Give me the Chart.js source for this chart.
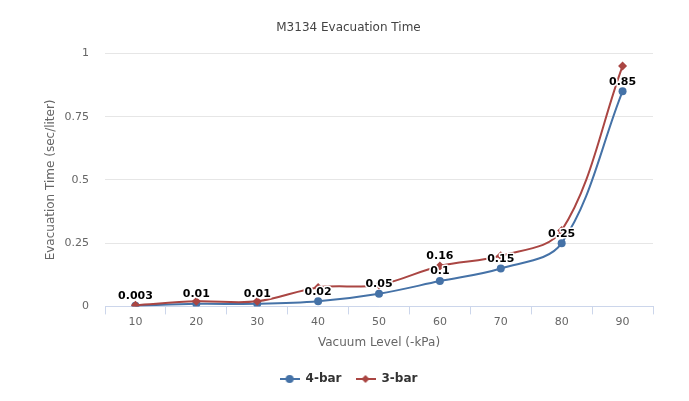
<!DOCTYPE html>
<html>
<head>
<meta charset="utf-8">
<script src="https://cdn.jsdelivr.net/npm/chart.js@4.4.1/dist/chart.umd.min.js"></script>
<style>
  html, body { margin: 0; padding: 0; background: #fff; }
  #wrap { width: 689px; height: 401px; }
</style>
</head>
<body>
<div id="wrap"><canvas id="evac-chart"></canvas></div>
<script>
// vacuum levels (-kPa)
var vacuumLevels = ["10", "20", "30", "40", "50", "60", "70", "80", "90"];
// evacuation time (sec/liter)
var fourBar = [0.003, 0.01, 0.01, 0.02, 0.05, 0.1, 0.15, 0.25, 0.85];
var threeBar = [0.005, 0.02, 0.02, 0.075, 0.085, 0.16, 0.2, 0.3, 0.95];
// which 3-bar values get a label (the rest are hidden under the 4-bar ones)
var threeBarLabelShown = [false, false, false, false, false, true, false, false, false];
var yTicks = [0, 0.25, 0.5, 0.75, 1];

var FONT = "'DejaVu Sans', sans-serif";
var BLUE = "#4572A7";
var RED = "#AA4643";

// small legend symbol: line with the marker on it
function legendSymbol(color, style) {
	var c = document.createElement("canvas");
	c.width = 20; c.height = 10;
	var g = c.getContext("2d");
	g.strokeStyle = color;
	g.lineWidth = 2;
	g.beginPath(); g.moveTo(0, 5); g.lineTo(20, 5); g.stroke();
	g.fillStyle = color;
	g.beginPath();
	if (style == "circle") {
		g.arc(10, 5, 4, 0, Math.PI * 2);
	} else {
		g.moveTo(10, 1); g.lineTo(14, 5); g.lineTo(10, 9); g.lineTo(6, 5); g.closePath();
	}
	g.fill();
	return c;
}

var dataLabels = {
	id: "dataLabels",
	afterDatasetsDraw: function(chart) {
		var ctx = chart.ctx;
		ctx.save();
		ctx.font = "bold 11px " + FONT;
		ctx.textAlign = "center";
		ctx.textBaseline = "bottom";
		ctx.lineJoin = "round";
		chart.data.datasets.forEach(function(ds, i) {
			var meta = chart.getDatasetMeta(i);
			meta.data.forEach(function(pt, j) {
				if (ds.showLabel && !ds.showLabel[j]) return;
				var txt = String(ds.data[j]);
				ctx.strokeStyle = "#fff";
				ctx.lineWidth = 3;
				ctx.strokeText(txt, pt.x, pt.y - 4);
				ctx.fillStyle = "#000";
				ctx.fillText(txt, pt.x, pt.y - 4);
			});
		});
		ctx.restore();
	}
};

new Chart(document.getElementById("evac-chart"), {
	type: "line",
	data: {
		labels: vacuumLevels,
		datasets: [{
			label: "4-bar",
			data: fourBar,
			borderColor: BLUE,
			backgroundColor: BLUE,
			pointBackgroundColor: BLUE,
			pointBorderColor: BLUE,
			pointStyle: "circle",
			pointRadius: 4,
			pointBorderWidth: 0,
			borderWidth: 2,
			tension: 0.35,
			order: 2,
			fill: false
		}, {
			label: "3-bar",
			data: threeBar,
			showLabel: threeBarLabelShown,
			borderColor: RED,
			backgroundColor: RED,
			pointBackgroundColor: RED,
			pointBorderColor: RED,
			pointStyle: "rectRot",
			pointRadius: 4.5,
			pointBorderWidth: 0,
			borderWidth: 2,
			tension: 0.35,
			order: 1,
			fill: false
		}]
	},
	options: {
		responsive: true,
		maintainAspectRatio: false,
		animation: false,
		layout: { padding: { left: 44, right: 36, top: 0, bottom: 6 } },
		plugins: {
			title: {
				display: true,
				text: "M3134 Evacuation Time",
				color: "#444",
				font: { family: FONT, size: 12, weight: "normal" },
				padding: { top: 21, bottom: 18 }
			},
			legend: {
				position: "bottom",
				labels: {
					color: "#333",
					font: { family: FONT, size: 12, weight: "bold" },
					usePointStyle: true,
					pointStyleWidth: 20,
					padding: 14,
					generateLabels: function(chart) {
						return chart.data.datasets.map(function(ds, i) {
							return {
								text: ds.label,
								pointStyle: legendSymbol(ds.borderColor, ds.pointStyle),
								fillStyle: ds.borderColor,
								strokeStyle: ds.borderColor,
								fontColor: "#333",
								lineWidth: 0,
								datasetIndex: i
							};
						});
					}
				}
			},
			tooltip: { enabled: false }
		},
		scales: {
			x: {
				offset: true,
				grid: {
					offset: true,
					drawOnChartArea: false,
					drawTicks: true,
					tickLength: 8,
					color: "#ccd6eb"
				},
				border: { color: "#ccd6eb", width: 1 },
				ticks: { color: "#666", font: { family: FONT, size: 11 }, padding: 1 },
				title: {
					display: true,
					text: "Vacuum Level (-kPa)",
					color: "#666",
					font: { family: FONT, size: 12 },
					padding: { top: 6, bottom: 9 }
				}
			},
			y: {
				min: 0,
				max: 1,
				afterBuildTicks: function(scale) {
					scale.ticks = yTicks.map(function(v) { return { value: v }; });
				},
				afterFit: function(scale) { scale.width = 61; },
				grid: { color: "#e6e6e6", drawTicks: false },
				border: { display: false },
				ticks: {
					color: "#666",
					font: { family: FONT, size: 11 },
					padding: 16,
					callback: function(v) { return String(v); }
				},
				title: {
					display: true,
					text: "Evacuation Time (sec/liter)",
					color: "#666",
					font: { family: FONT, size: 12 },
					padding: { top: 0, bottom: 0 }
				}
			}
		}
	},
	plugins: [dataLabels]
});
</script>
</body>
</html>
